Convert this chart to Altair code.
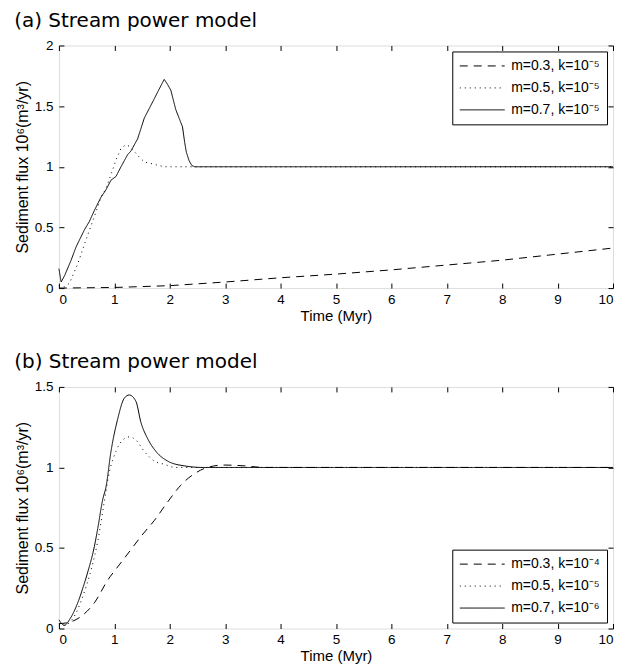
import altair as alt
import pandas as pd

# ---------------- data ----------------
a_names = ["m=0.3, k=10⁻⁵", "m=0.5, k=10⁻⁵", "m=0.7, k=10⁻⁵"]
a_dash_t = [0, 1, 2, 3, 4, 5, 6, 7, 8, 9, 10]
a_dash_v = [0.0, 0.005, 0.02, 0.05, 0.085, 0.115, 0.15, 0.19, 0.23, 0.28, 0.33]
a_dot_t = [0.0, 0.1, 0.19, 0.34, 0.49, 0.64, 0.76, 0.85, 0.95, 1.05, 1.12, 1.2, 1.27,
           1.35, 1.45, 1.54, 1.72, 1.9, 2.1, 10]
a_dot_v = [0.02, 0.01, 0.04, 0.2, 0.4, 0.59, 0.75, 0.82, 0.95, 1.08, 1.15, 1.18, 1.17,
           1.13, 1.08, 1.04, 1.02, 1.0, 1.0, 1.0]
a_sol_t = [0, 0.04, 0.1, 0.22, 0.31, 0.46, 0.55, 0.64, 0.76, 0.85, 0.94, 1.03, 1.12,
           1.18, 1.24, 1.3, 1.42, 1.54, 1.63, 1.72, 1.82, 1.9, 1.96, 2.02, 2.11, 2.17,
           2.23, 2.27, 2.3, 2.35, 2.4, 2.45, 3, 10]
a_sol_v = [0.16, 0.05, 0.1, 0.23, 0.34, 0.48, 0.55, 0.64, 0.75, 0.81, 0.89, 0.92, 1.0,
           1.05, 1.1, 1.13, 1.23, 1.4, 1.48, 1.56, 1.65, 1.72, 1.68, 1.63, 1.47, 1.4,
           1.33, 1.2, 1.12, 1.05, 1.01, 1.0, 1.0, 1.0]

b_names = ["m=0.3, k=10⁻⁴", "m=0.5, k=10⁻⁵", "m=0.7, k=10⁻⁶"]
b_dash_t = [0, 0.2, 0.4, 0.64, 0.88, 1.1, 1.3, 1.5, 1.72, 1.95, 2.2, 2.44, 2.68, 2.98,
            3.34, 3.7, 10]
b_dash_v = [0.03, 0.04, 0.075, 0.16, 0.30, 0.40, 0.49, 0.58, 0.67, 0.78, 0.89, 0.96,
            1.0, 1.015, 1.01, 1.0, 1.0]
b_dot_t = [0, 0.1, 0.2, 0.3, 0.4, 0.5, 0.6, 0.7, 0.82, 0.91, 1.03, 1.15, 1.27, 1.39,
           1.54, 1.72, 1.9, 2.1, 2.5, 10]
b_dot_v = [0.03, 0.02, 0.04, 0.09, 0.17, 0.27, 0.39, 0.54, 0.79, 0.97, 1.10, 1.17,
           1.19, 1.17, 1.10, 1.04, 1.02, 1.0, 1.0, 1.0]
b_sol_t = [0, 0.1, 0.2, 0.34, 0.44, 0.52, 0.64, 0.7, 0.79, 0.85, 0.94, 1.06, 1.18,
           1.27, 1.39, 1.48, 1.6, 1.75, 1.96, 2.26, 2.6, 10]
b_sol_v = [0.054, 0.02, 0.06, 0.16, 0.26, 0.35, 0.51, 0.62, 0.80, 0.88, 1.10, 1.30,
           1.43, 1.45, 1.41, 1.28, 1.18, 1.10, 1.04, 1.01, 1.0, 1.0]

x_ticks = list(range(0, 11))
a_yticks = [0, 0.5, 1, 1.5, 2]
b_yticks = [0, 0.5, 1, 1.5]
dashes = [[8, 6], [1, 4], [1, 0]]

FONT = "Liberation Sans"
YTITLE = "Sediment flux 10⁶(m³/yr)"


def frame(names, series):
    rows = []
    for name, (ts, vs) in zip(names, series):
        for t, v in zip(ts, vs):
            rows.append({"t": t, "v": v, "series": name})
    return pd.DataFrame(rows)


def panel(df, names, title, ymax, yticks, orient, height, interp):
    xs = alt.Scale(domain=[0, 10], nice=False, zero=False)
    ys = alt.Scale(domain=[0, ymax], nice=False, zero=False)
    common = dict(offset=-5, tickSize=5, domain=False, grid=False,
                  tickColor="black", tickWidth=1,
                  labelFont=FONT, labelFontSize=13.5, labelColor="black",
                  titleFont=FONT, titleFontWeight="normal", titleColor="black")
    lines = alt.Chart(df).mark_line(color="black", strokeWidth=1, interpolate=interp).encode(
        x=alt.X("t:Q", scale=xs, axis=alt.Axis(
            values=x_ticks, title="Time (Myr)", format="d", labelPadding=4,
            titlePadding=3, titleFontSize=15, **common)),
        y=alt.Y("v:Q", scale=ys, axis=alt.Axis(
            values=yticks, title=YTITLE, format="~g", labelPadding=6,
            titlePadding=4, titleFontSize=16, **common)),
        strokeDash=alt.StrokeDash("series:N", scale=alt.Scale(domain=names, range=dashes),
                                  legend=alt.Legend(
                                      title=None, orient=orient, offset=6,
                                      strokeColor="black", fillColor="white",
                                      padding=7, symbolType="stroke", symbolSize=2025,
                                      symbolStrokeWidth=1, symbolStrokeColor="black",
                                      labelFont=FONT, labelFontSize=14, labelColor="black",
                                      rowPadding=7, labelOffset=6, clipHeight=15,
                                      cornerRadius=0)),
    )
    box = alt.Chart(df).mark_line(opacity=0).encode(
        x=alt.X("t:Q", scale=xs, axis=alt.Axis(orient="top", values=x_ticks, labels=False,
                                               title=None, **common)),
        y=alt.Y("v:Q", scale=ys, axis=alt.Axis(orient="right", values=yticks, labels=False,
                                               title=None, **common)),
        detail="series:N",
    )
    return alt.layer(lines, box).resolve_axis(x="independent", y="independent").properties(
        width=555, height=height,
        title=alt.Title(title, anchor="start", font="DejaVu Sans", fontSize=20,
                        fontWeight="normal", color="black", offset=8),
    )


df_a = frame(a_names, [(a_dash_t, a_dash_v), (a_dot_t, a_dot_v), (a_sol_t, a_sol_v)])
df_b = frame(b_names, [(b_dash_t, b_dash_v), (b_dot_t, b_dot_v), (b_sol_t, b_sol_v)])

pa = panel(df_a, a_names, "(a) Stream power model", 2, a_yticks, "top-right", 243, "linear")
pb = panel(df_b, b_names, "(b) Stream power model", 1.5, b_yticks, "bottom-right", 242,
           "monotone")

chart = alt.vconcat(pa, pb, spacing=27).resolve_scale(strokeDash="independent").resolve_legend(
    strokeDash="independent").properties(
    padding={"left": 5, "top": 1, "right": 2, "bottom": 2}
).configure_view(stroke="black", strokeWidth=1).configure(background="white")

chart.save("out.html", embed_options={"renderer": "svg", "actions": False})
